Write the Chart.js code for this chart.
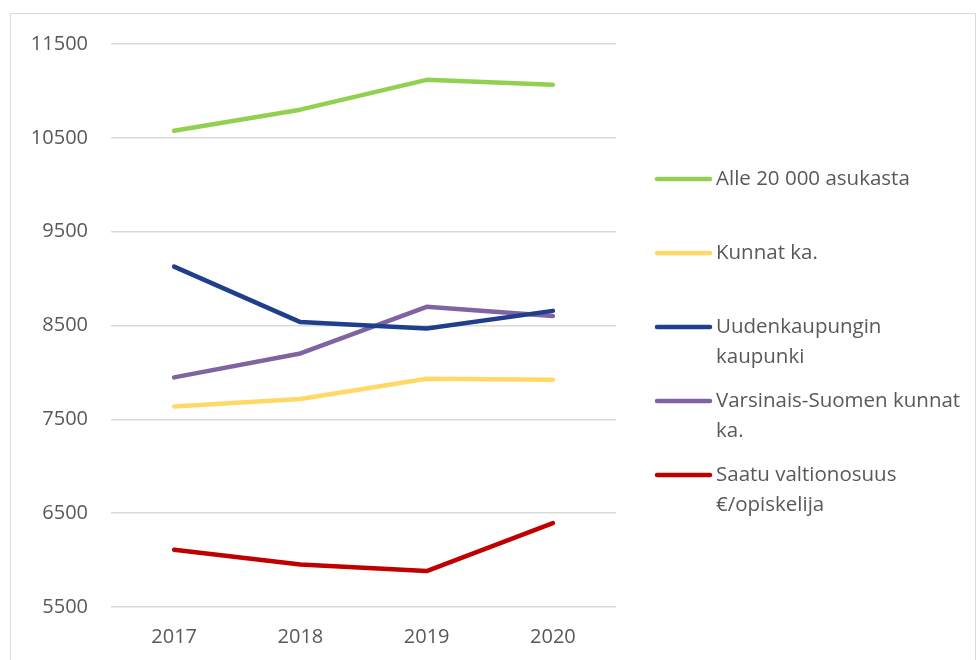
<!DOCTYPE html>
<html>
<head>
<meta charset="utf-8">
<script src="https://cdn.jsdelivr.net/npm/chart.js@4.4.0/dist/chart.umd.min.js"></script>
<style>
  html, body { margin: 0; padding: 0; background: #fff; }
  #wrap { position: relative; width: 978px; height: 660px; overflow: hidden; }
  #frame { position: absolute; left: 10px; top: 13px; width: 966px; height: 700px; border: 1.5px solid #d9d9d9; box-sizing: border-box; pointer-events: none; }
  canvas { position: absolute; left: 0; top: 0; }
</style>
</head>
<body>
<div id="wrap">
  <div id="frame"></div>
  <canvas id="c" width="978" height="660"></canvas>
</div>
<script>
const categories = ["2017", "2018", "2019", "2020"];
const alle20000 = [10575, 10800, 11118, 11066];
const kunnatKa = [7638, 7717, 7933, 7922];
const uudenkaupunki = [9128, 8536, 8468, 8656];
const varsinaisSuomi = [7947, 8202, 8699, 8600];
const valtionosuus = [6111, 5954, 5883, 6394];
const yTicks = [5500, 6500, 7500, 8500, 9500, 10500, 11500];

const seriesNames = [
  ["Alle 20 000 asukasta"],
  ["Kunnat ka."],
  ["Uudenkaupungin", "kaupunki"],
  ["Varsinais-Suomen kunnat", "ka."],
  ["Saatu valtionosuus", "€/opiskelija"]
];
const seriesData = [alle20000, kunnatKa, uudenkaupunki, varsinaisSuomi, valtionosuus];
const seriesColors = ["#92D050", "#FFD966", "#1F3E8C", "#8064A2", "#C00000"];

const FONT = "'Open Sans', 'Noto Sans', sans-serif";
const TEXT = "#595959";

const legendPlugin = {
  id: 'sideLegend',
  afterDraw(chart) {
    const ctx = chart.ctx;
    const rowY = [179, 253, 327, 401, 475];
    ctx.save();
    ctx.font = "20.5px " + FONT;
    ctx.fillStyle = TEXT;
    ctx.textBaseline = 'middle';
    ctx.textAlign = 'left';
    chart.data.datasets.forEach((ds, i) => {
      const y = rowY[i];
      ctx.strokeStyle = ds.borderColor;
      ctx.lineWidth = 4.5;
      ctx.lineCap = 'round';
      ctx.beginPath();
      ctx.moveTo(657, y);
      ctx.lineTo(710, y);
      ctx.stroke();
      ds.legendLines.forEach((t, j) => {
        ctx.fillText(t, 716, y + j * 30);
      });
    });
    ctx.restore();
  }
};

new Chart(document.getElementById('c'), {
  type: 'line',
  data: {
    labels: categories,
    datasets: seriesData.map((d, i) => ({
      label: seriesNames[i].join(' '),
      legendLines: seriesNames[i],
      data: d,
      borderColor: seriesColors[i],
      backgroundColor: seriesColors[i],
      borderWidth: 4.5,
      borderCapStyle: 'round',
      borderJoinStyle: 'round',
      pointRadius: 0,
      tension: 0,
      fill: false
    }))
  },
  options: {
    responsive: false,
    animation: false,
    devicePixelRatio: 1,
    layout: { padding: { left: 0, right: 362, top: 44, bottom: 0 } },
    plugins: { legend: { display: false }, tooltip: { enabled: false } },
    scales: {
      x: {
        offset: true,
        grid: { display: false, drawTicks: false },
        border: { display: false },
        ticks: { color: TEXT, font: { family: FONT, size: 20 }, padding: 18 },
        afterFit(s) { s.height = 53; }
      },
      y: {
        min: 5500,
        max: 11500,
        afterBuildTicks(s) { s.ticks = yTicks.map(v => ({ value: v })); },
        grid: { color: "#d9d9d9", lineWidth: 1.5, drawTicks: false },
        border: { display: false },
        ticks: { color: TEXT, font: { family: FONT, size: 20 }, padding: 23, callback: v => String(v) },
        afterFit(s) { s.width = 111; }
      }
    }
  },
  plugins: [legendPlugin]
});
</script>
</body>
</html>
